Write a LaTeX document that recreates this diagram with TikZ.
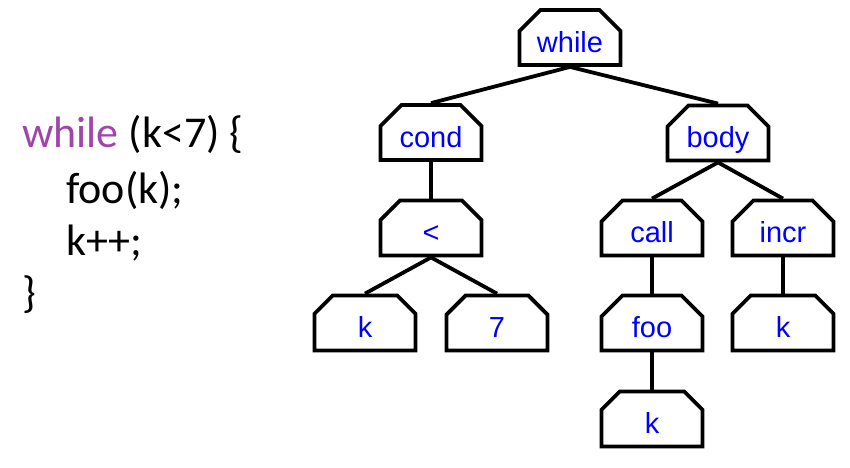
\documentclass[tikz,border=0pt]{standalone}
\usepackage{fontspec}
\setmainfont{Liberation Sans}
\newfontfamily\codefont{Carlito}
\usetikzlibrary{shapes.misc}
\definecolor{kwpurple}{RGB}{160,70,170}
\begin{document}
\begin{tikzpicture}[x=1pt,y=-1pt,
  astnode/.style={chamfered rectangle, chamfered rectangle corners={north west,north east},
    chamfered rectangle xsep=11pt, chamfered rectangle ysep=10pt,
    draw=black, line width=3.8pt, fill=white, minimum width=101pt, minimum height=55pt,
    inner sep=0pt, text=blue, text height=29pt, text depth=0pt,
    font=\fontsize{29}{33}\selectfont},
  edge/.style={line width=3.8pt},
  code/.style={anchor=base west, inner sep=0pt, font=\codefont\fontsize{44}{50}\selectfont}]
\useasboundingbox (0,0) rectangle (850,467);
% code
\node[code] (l1) at (22,147) {\textcolor{kwpurple}{while} (k<7) \{};
\node[code] (l2) at (66,203) {foo(k);};
\node[code] (l3) at (66,255) {k++;};
\node[code] (l4) at (22,307) {\}};
% tree nodes
\node[astnode] (while) at (570,37.5) {while};
\node[astnode] (cond) at (431,132.5) {cond};
\node[astnode] (body) at (718,133) {body};
\node[astnode] (lt) at (431,228) {<};
\node[astnode] (call) at (652,228) {call};
\node[astnode] (incr) at (783,228) {incr};
\node[astnode] (k1) at (365,323) {k};
\node[astnode] (seven) at (497,323) {7};
\node[astnode] (foo) at (652,323) {foo};
\node[astnode] (k2) at (783,323) {k};
\node[astnode] (k3) at (652,419) {k};
% edges
\draw[edge] (while.south) -- (cond.north);
\draw[edge] (while.south) -- (body.north);
\draw[edge] (cond.south) -- (lt.north);
\draw[edge] (lt.south) -- (k1.north);
\draw[edge] (lt.south) -- (seven.north);
\draw[edge] (body.south) -- (call.north);
\draw[edge] (body.south) -- (incr.north);
\draw[edge] (call.south) -- (foo.north);
\draw[edge] (incr.south) -- (k2.north);
\draw[edge] (foo.south) -- (k3.north);
\end{tikzpicture}
\end{document}
